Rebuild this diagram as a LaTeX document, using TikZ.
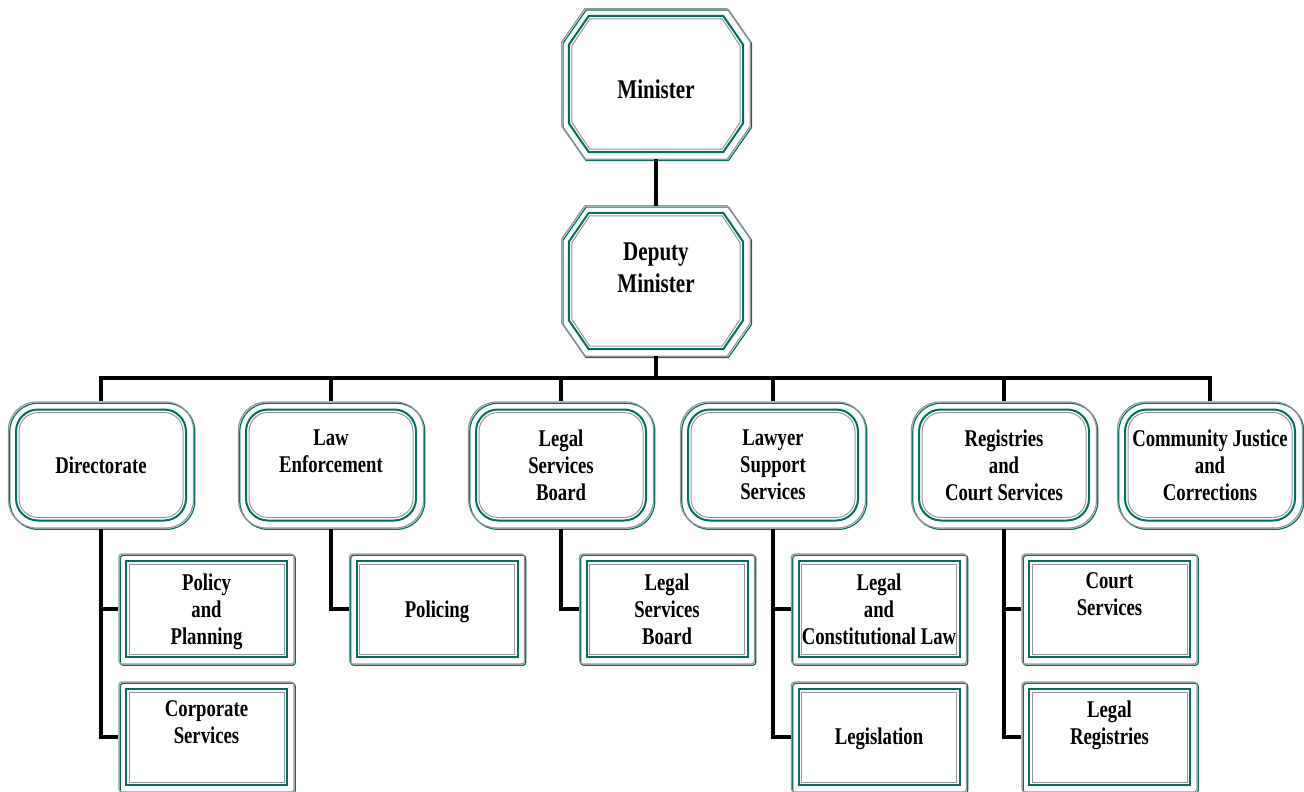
\documentclass[tikz,border=0pt]{standalone}
\usepackage{fontspec}
\newfontfamily\orgfont{Liberation Serif}[FakeStretch=0.78]
\usetikzlibrary{positioning,calc}
\definecolor{frameteal}{RGB}{0,112,96}
\definecolor{framegray}{RGB}{150,150,150}

% octagon round a node: node, inset, chamfer x, chamfer y
\newcommand{\octpath}[4]{%
  ($(#1.north west)+(#2+#3,#2)$) -- ($(#1.north east)+(-#2-#3,#2)$)
  -- ($(#1.north east)+(-#2,#2+#4)$) -- ($(#1.south east)+(-#2,-#2-#4)$)
  -- ($(#1.south east)+(-#2-#3,-#2)$) -- ($(#1.south west)+(#2+#3,-#2)$)
  -- ($(#1.south west)+(#2,-#2-#4)$) -- ($(#1.north west)+(#2,#2+#4)$) -- cycle}
% one box = outer frame with a name, two inner frames, and its text (shifted down by #1)
\newcommand{\topbox}[4][0]{%
  \node[topout] (#2) at (#3) {};
  \draw[outline] \octpath{#2}{0}{23}{33};
  \draw[midline] \octpath{#2}{7}{20}{29};
  \draw[inline] \octpath{#2}{10}{18}{27};
  \node[toptext] (#2-t) at ($(#2.center)+(0,#1)$) {#4};}
\newcommand{\unitbox}[4][0]{%
  \node[unitout] (#2) at (#3) {};
  \node[unitmid] at (#3) {};
  \node[unitin] at (#3) {};
  \node[boxtext] (#2-t) at ($(#2.center)+(0,#1)$) {#4};}
\newcommand{\subbox}[4][3]{%
  \node[subout] (#2) at (#3) {};
  \node[submid] at (#3) {};
  \node[subin] at (#3) {};
  \node[boxtext] (#2-t) at ($(#2.center)+(0,#1)$) {#4};}

\begin{document}
\begin{tikzpicture}[x=1pt, y=-1pt,
  outline/.style={draw=framegray, line width=1.2pt, preaction={draw=frameteal, line width=1.2pt, transform canvas={shift={(1.3pt,-1.3pt)}}}},
  midline/.style={draw=frameteal, line width=2pt},
  inline/.style={draw=framegray, line width=1pt},
  toptext/.style={align=center, inner sep=0pt, font=\orgfont\bfseries\fontsize{27}{32}\selectfont},
  boxtext/.style={align=center, inner sep=0pt, font=\orgfont\bfseries\fontsize{24}{27}\selectfont},
  topout/.style={rectangle, minimum width=188pt, minimum height=150pt, inner sep=0pt},
  unitout/.style={rectangle, rounded corners=28pt, minimum width=185pt, minimum height=126pt, inner sep=0pt, outline},
  unitmid/.style={rectangle, rounded corners=22pt, minimum width=170pt, minimum height=111pt, inner sep=0pt, midline},
  unitin/.style={rectangle, rounded corners=19pt, minimum width=164pt, minimum height=105pt, inner sep=0pt, inline},
  subout/.style={rectangle, rounded corners=3pt, minimum width=175pt, minimum height=110pt, inner sep=0pt, outline},
  submid/.style={rectangle, minimum width=161pt, minimum height=96pt, inner sep=0pt, midline},
  subin/.style={rectangle, minimum width=155pt, minimum height=90pt, inner sep=0pt, inline},
  link/.style={line width=3.4pt, black}]
  \useasboundingbox (0,0) rectangle (1304,792);

  % top of the ministry
  \topbox[5]{min}{656,84}{Minister}
  \topbox[-13]{dep}{656,281}{Deputy\\Minister}
  \coordinate (bus) at (656,378);

  % divisions
  \unitbox{dir}{101,465}{Directorate}
  \unitbox[4]{law}{331,465}{Law\\Enforcement\\\strut}
  \unitbox{lsb}{561,465}{Legal\\Services\\Board}
  \unitbox{lss}{773,465}{Lawyer\\Support\\Services}
  \unitbox{reg}{1004,465}{Registries\\and\\Court Services}
  \unitbox{cjc}{1210,465}{Community Justice\\and\\Corrections}

  % sections
  \subbox{pol}{206.5,609}{Policy\\and\\Planning}
  \subbox{corp}{206.5,737}{Corporate\\Services\\\strut}
  \subbox{police}{437,609}{Policing}
  \subbox[0]{board}{667,609}{Legal\\Services\\Board}
  \subbox[0]{lcl}{879,609}{Legal\\and\\Constitutional Law}
  \subbox[2]{legis}{879,737}{Legislation}
  \subbox{court}{1109.5,609}{Court\\Services\\\strut}
  \subbox{lreg}{1109.5,737}{Legal\\Registries\\\strut}

  % connectors
  \draw[link] (min.south) -- (dep.north);
  \draw[link] (dep.south) -- (bus);
  \foreach \u in {dir,law,lsb,lss,reg,cjc}
    \draw[link] (bus) -| (\u.north);
  \draw[link] (dir.south) |- (pol.west);
  \draw[link] (dir.south) |- (corp.west);
  \draw[link] (law.south) |- (police.west);
  \draw[link] (lsb.south) |- (board.west);
  \draw[link] (lss.south) |- (lcl.west);
  \draw[link] (lss.south) |- (legis.west);
  \draw[link] (reg.south) |- (court.west);
  \draw[link] (reg.south) |- (lreg.west);
\end{tikzpicture}
\end{document}
